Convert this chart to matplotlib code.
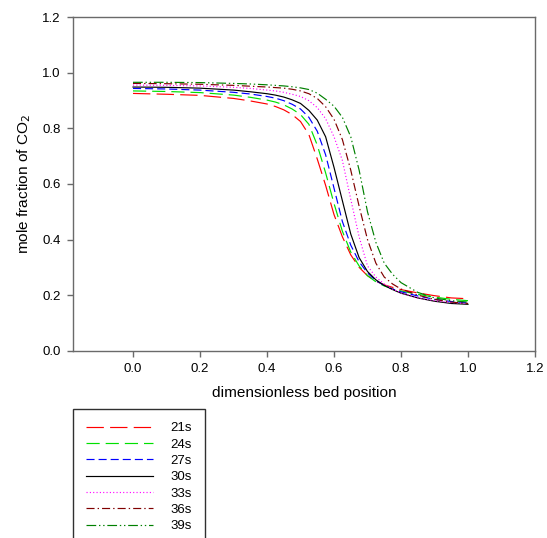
import matplotlib
matplotlib.use("Agg")
import matplotlib.pyplot as plt

plt.rcParams['font.family'] = ['Liberation Sans', 'DejaVu Sans']
plt.rcParams['lines.scale_dashes'] = False

x_pos = [0.0, 0.1, 0.2, 0.3, 0.35, 0.4, 0.425, 0.45, 0.475, 0.5, 0.525, 0.55, 0.575,
         0.6, 0.625, 0.65, 0.675, 0.7, 0.725, 0.75, 0.775, 0.8, 0.85, 0.9, 0.95, 1.0]

y_21s = [0.926, 0.923, 0.919, 0.908, 0.899, 0.888, 0.879, 0.867, 0.85, 0.825, 0.778, 0.69, 0.595,
         0.49, 0.41, 0.345, 0.30, 0.27, 0.25, 0.237, 0.228, 0.22, 0.208, 0.198, 0.19, 0.187]
y_24s = [0.935, 0.933, 0.929, 0.92, 0.912, 0.902, 0.895, 0.885, 0.87, 0.85, 0.815, 0.74, 0.64,
         0.53, 0.43, 0.355, 0.305, 0.27, 0.248, 0.233, 0.223, 0.215, 0.203, 0.193, 0.185, 0.18]
y_27s = [0.944, 0.942, 0.938, 0.93, 0.924, 0.915, 0.909, 0.90, 0.887, 0.87, 0.84, 0.79, 0.705,
         0.585, 0.465, 0.38, 0.32, 0.28, 0.252, 0.235, 0.222, 0.212, 0.197, 0.185, 0.177, 0.172]
y_30s = [0.949, 0.948, 0.945, 0.938, 0.932, 0.925, 0.92, 0.913, 0.903, 0.89, 0.865, 0.83, 0.77,
         0.66, 0.54, 0.42, 0.335, 0.285, 0.255, 0.235, 0.22, 0.207, 0.19, 0.178, 0.17, 0.167]
y_33s = [0.956, 0.955, 0.953, 0.948, 0.944, 0.938, 0.935, 0.93, 0.923, 0.915, 0.90, 0.875, 0.835,
         0.77, 0.685, 0.545, 0.41, 0.305, 0.265, 0.24, 0.222, 0.208, 0.19, 0.18, 0.173, 0.17]
y_36s = [0.962, 0.961, 0.959, 0.955, 0.952, 0.949, 0.947, 0.945, 0.941, 0.935, 0.925, 0.908, 0.878,
         0.833, 0.76, 0.65, 0.52, 0.40, 0.315, 0.265, 0.24, 0.222, 0.20, 0.185, 0.175, 0.17]
y_39s = [0.966, 0.966, 0.965, 0.962, 0.96, 0.957, 0.955, 0.953, 0.95, 0.946, 0.94, 0.927, 0.905,
         0.88, 0.84, 0.77, 0.65, 0.50, 0.39, 0.315, 0.275, 0.245, 0.21, 0.19, 0.18, 0.175]

labels = ['21s', '24s', '27s', '30s', '33s', '36s', '39s']
series = [y_21s, y_24s, y_27s, y_30s, y_33s, y_36s, y_39s]
colors = ['#ff0000', '#00e000', '#0000ff', '#000000', '#ff00ff', '#800000', '#008000']
styles = [(0, (12.5, 4.5)), (0, (9.5, 4.3)), (0, (5.8, 2.9)), '-',
          (0, (0.8, 1.6)), (0, (5.8, 2.2, 1.0, 2.2)), (0, (7.0, 2.0, 1.0, 2.0, 1.0, 2.0))]

x_ticks = [0.0, 0.2, 0.4, 0.6, 0.8, 1.0, 1.2]
y_ticks = [0.0, 0.2, 0.4, 0.6, 0.8, 1.0, 1.2]

fig = plt.figure(figsize=(5.47, 5.38), dpi=100)
ax = fig.add_axes([72.7 / 547, 1 - 350.7 / 538, (535 - 72.7) / 547, (350.7 - 17.3) / 538])

handles = []
for ys, c, ls, lab in zip(series, colors, styles, labels):
    h, = ax.plot(x_pos, ys, color=c, linestyle=ls, linewidth=0.85, label=lab)
    handles.append(h)

ax.set_xlim(-0.18, 1.2)
ax.set_ylim(0.0, 1.2)
ax.set_xticks(x_ticks)
ax.set_yticks(y_ticks)
ax.set_xticklabels([f"{v:.1f}" for v in x_ticks])
ax.set_yticklabels([f"{v:.1f}" for v in y_ticks])

spine_col = '#6a6a6a'
for s in ax.spines.values():
    s.set_color(spine_col)
    s.set_linewidth(1.0)
ax.tick_params(axis='both', direction='out', length=4.5, width=1.0, color=spine_col,
               labelsize=9.5, pad=4, top=False, right=False)

ax.set_xlabel('dimensionless bed position', fontsize=11.1, labelpad=8)
ax.set_ylabel('mole fraction of CO$_2$', fontsize=11.1, labelpad=7)

leg = fig.legend(handles=handles, labels=labels, loc='upper left',
                 bbox_to_anchor=(72.7 / 547, 1 - 409 / 538), bbox_transform=fig.transFigure,
                 fontsize=9.5, frameon=True, fancybox=False, framealpha=1.0,
                 handlelength=5.1, handletextpad=1.3, labelspacing=0.31,
                 borderpad=1.0, borderaxespad=0.0)
leg.get_frame().set_edgecolor('#303030')
leg.get_frame().set_linewidth(1.0)

fig.savefig('out.png', dpi=100)
